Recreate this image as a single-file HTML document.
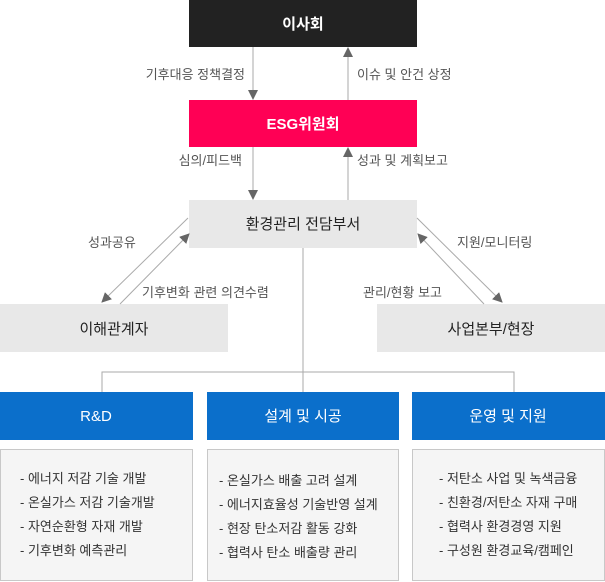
<!DOCTYPE html>
<html><head><meta charset="utf-8"><style>
body{margin:0;background:#fff;}
svg{display:block;font-family:"Liberation Sans","Noto Sans CJK KR",sans-serif;}
</style></head><body>
<svg width="605" height="582" viewBox="0 0 605 582" xmlns="http://www.w3.org/2000/svg">
<defs>
<marker id="a" markerWidth="10" markerHeight="10" refX="9" refY="5" orient="auto" markerUnits="userSpaceOnUse">
<path d="M0,0 L10,5 L0,10 Z" fill="#666"/></marker>
</defs>
<rect x="189" y="0" width="228" height="47" fill="#222"/>
<text x="303" y="29" font-size="15" fill="#fff" text-anchor="middle" font-weight="bold">이사회</text>
<rect x="189" y="100" width="228" height="47" fill="#ff0055"/>
<text x="303" y="129" font-size="15" fill="#fff" text-anchor="middle" font-weight="bold">ESG위원회</text>
<rect x="189" y="200" width="228" height="48" fill="#e8e8e8"/>
<text x="303" y="229" font-size="15" fill="#222" text-anchor="middle">환경관리 전담부서</text>
<rect x="0" y="304" width="228" height="48" fill="#e8e8e8"/>
<text x="114" y="334" font-size="15" fill="#222" text-anchor="middle">이해관계자</text>
<rect x="377" y="304" width="228" height="48" fill="#e8e8e8"/>
<text x="491" y="334" font-size="15" fill="#222" text-anchor="middle">사업본부/현장</text>

<g stroke="#aaa" stroke-width="1" fill="none">
<line x1="253" y1="47" x2="253" y2="99" marker-end="url(#a)"/>
<line x1="348" y1="100" x2="348" y2="48" marker-end="url(#a)"/>
<line x1="253" y1="147" x2="253" y2="199" marker-end="url(#a)"/>
<line x1="348" y1="200" x2="348" y2="148" marker-end="url(#a)"/>
<line x1="188" y1="218" x2="102" y2="302" marker-end="url(#a)"/>
<line x1="120" y1="304" x2="189" y2="234" marker-end="url(#a)"/>
<line x1="417" y1="218" x2="502" y2="302" marker-end="url(#a)"/>
<line x1="484" y1="304" x2="418" y2="234" marker-end="url(#a)"/>
<line x1="303" y1="248" x2="303" y2="392"/>
<polyline points="102,392 102,372 514,372 514,392"/>
</g>

<g font-size="13" fill="#555">
<text x="245" y="79" text-anchor="end">기후대응 정책결정</text>
<text x="357" y="79">이슈 및 안건 상정</text>
<text x="242" y="165" text-anchor="end">심의/피드백</text>
<text x="357" y="165">성과 및 계획보고</text>
<text x="88" y="247">성과공유</text>
<text x="142" y="297">기후변화 관련 의견수렴</text>
<text x="457" y="247">지원/모니터링</text>
<text x="363" y="297">관리/현황 보고</text>
</g>

<rect x="0" y="392" width="193" height="48" fill="#0b6fcb"/>
<rect x="207" y="392" width="192" height="48" fill="#0b6fcb"/>
<rect x="412" y="392" width="193" height="48" fill="#0b6fcb"/>
<g font-size="15" fill="#fff" text-anchor="middle">
<text x="96" y="421">R&amp;D</text>
<text x="303" y="421">설계 및 시공</text>
<text x="508" y="421">운영 및 지원</text>
</g>
<g fill="#f5f5f5" stroke="#c8c8c8">
<rect x="0.5" y="449.5" width="192" height="131"/>
<rect x="207.5" y="449.5" width="191" height="131"/>
<rect x="412.5" y="449.5" width="192" height="131"/>
</g>
<g font-size="13" fill="#333">
<text x="20" y="483">- 에너지 저감 기술 개발</text>
<text x="20" y="507">- 온실가스 저감 기술개발</text>
<text x="20" y="531">- 자연순환형 자재 개발</text>
<text x="20" y="555">- 기후변화 예측관리</text>
<text x="219" y="485">- 온실가스 배출 고려 설계</text>
<text x="219" y="509">- 에너지효율성 기술반영 설계</text>
<text x="219" y="533">- 현장 탄소저감 활동 강화</text>
<text x="219" y="557">- 협력사 탄소 배출량 관리</text>
<text x="439" y="483">- 저탄소 사업 및 녹색금융</text>
<text x="439" y="507">- 친환경/저탄소 자재 구매</text>
<text x="439" y="531">- 협력사 환경경영 지원</text>
<text x="439" y="555">- 구성원 환경교육/캠페인</text>
</g>
</svg>
</body></html>
